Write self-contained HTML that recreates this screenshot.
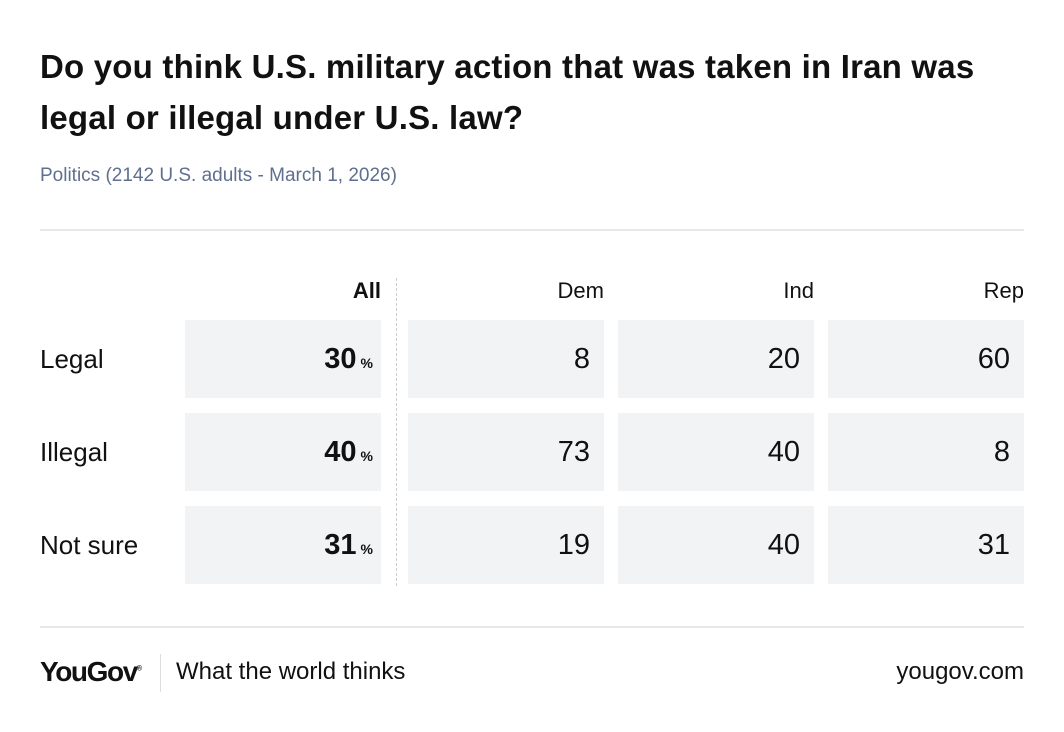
<!DOCTYPE html><html><head><style>
body{margin:0;width:1064px;height:732px;background:#fff;font-family:"Liberation Sans",sans-serif;position:relative;overflow:hidden;color:#111}
.a{position:absolute}
.t{left:40px;top:41px;font-size:33px;font-weight:bold;line-height:51px;letter-spacing:0.2px;color:#111;white-space:nowrap}
.s{left:40px;top:165px;font-size:19px;color:#5f6f8f}
.hr{left:40px;width:984px;height:2px;background:#e6e8ec}
.c{background:#f1f3f4;height:78px;width:196px;font-size:29px;line-height:78px;text-align:right;box-sizing:border-box;padding-right:14px}
.h{font-size:22px;top:278px;text-align:right;width:196px}
.l{left:40px;font-size:26px;line-height:78px}
.b{font-weight:900;font-size:29px;padding-right:8px}
.b small{font-size:14px;margin-left:4px}
</style></head><body>
<div class="a t">Do you think U.S. military action that was taken in Iran was<br>legal or illegal under U.S. law?</div>
<div class="a s">Politics (2142 U.S. adults - March 1, 2026)</div>
<div class="a hr" style="top:229px"></div>
<div class="a h" style="left:185px;font-weight:900">All</div>
<div class="a h" style="left:408px">Dem</div>
<div class="a h" style="left:618px">Ind</div>
<div class="a h" style="left:828px">Rep</div>
<div class="a" style="left:396px;top:278px;height:308px;border-left:1px dashed #ccc"></div>
<div class="a l" style="top:320px">Legal</div>
<div class="a l" style="top:413px">Illegal</div>
<div class="a l" style="top:506px">Not sure</div>
<div class="a c b" style="left:185px;top:320px">30<small>%</small></div>
<div class="a c b" style="left:185px;top:413px">40<small>%</small></div>
<div class="a c b" style="left:185px;top:506px">31<small>%</small></div>
<div class="a c" style="left:408px;top:320px">8</div>
<div class="a c" style="left:618px;top:320px">20</div>
<div class="a c" style="left:828px;top:320px">60</div>
<div class="a c" style="left:408px;top:413px">73</div>
<div class="a c" style="left:618px;top:413px">40</div>
<div class="a c" style="left:828px;top:413px">8</div>
<div class="a c" style="left:408px;top:506px">19</div>
<div class="a c" style="left:618px;top:506px">40</div>
<div class="a c" style="left:828px;top:506px">31</div>
<div class="a hr" style="top:626px"></div>
<div class="a" style="left:40px;top:656px;font-size:28px;font-weight:bold;letter-spacing:-1.4px">YouGov<sup style="font-size:7px">®</sup></div>
<div class="a" style="left:160px;top:654px;height:38px;border-left:1px solid #ddd"></div>
<div class="a" style="left:176px;top:658px;font-size:24px">What the world thinks</div>
<div class="a" style="right:40px;top:658px;font-size:24px">yougov.com</div>
</body></html>
